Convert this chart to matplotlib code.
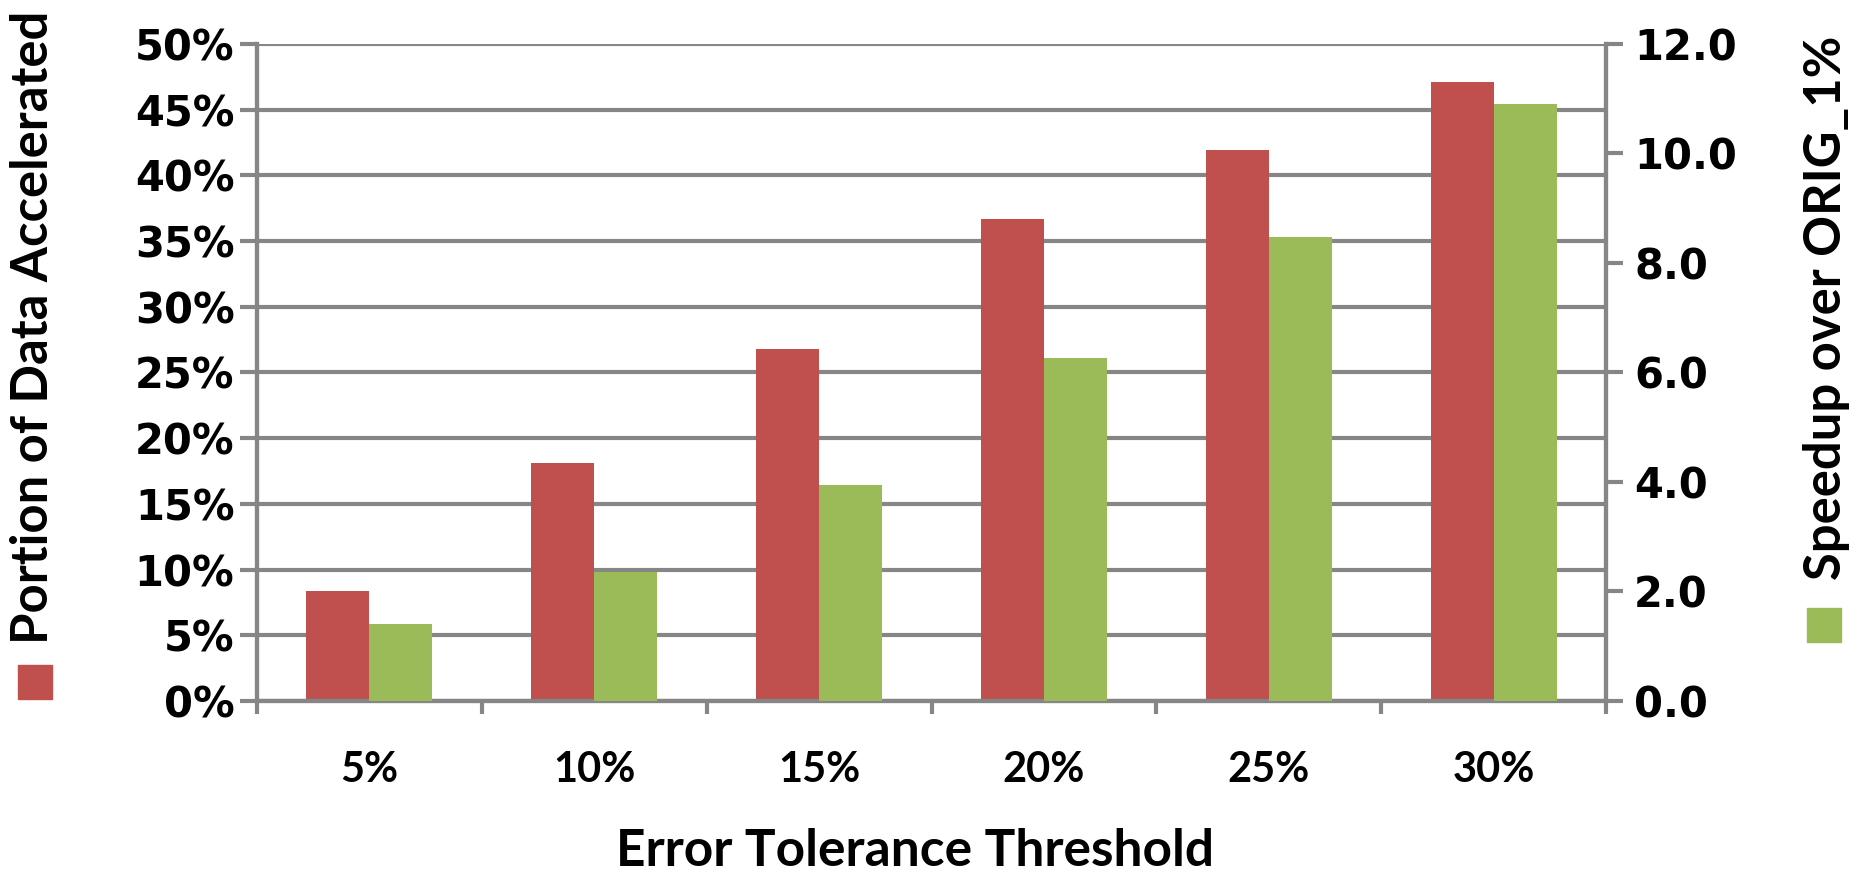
import numpy as np
import matplotlib.pyplot as plt
from matplotlib.patches import Rectangle

# Datos
thresholds = ["5%", "10%", "15%", "20%", "25%", "30%"]
portion_accel = [8.4, 18.1, 26.8, 36.7, 41.9, 47.1]   # % de datos acelerados
speedup = [1.41, 2.36, 3.94, 6.27, 8.47, 10.91]      # speedup sobre ORIG_1%

red = "#C0504D"
green = "#9BBB59"
grey = "#868686"
txt_font = ["Lato", "DejaVu Sans"]
num_font = "DejaVu Sans"
lw = 3.0

fig = plt.figure(figsize=(18.63, 8.74), dpi=100)
ax = fig.add_axes([0.1378, 0.198, 0.7244, 0.7517])
ax2 = ax.twinx()

x = np.arange(len(thresholds))
w = 0.28
ax.bar(x - w / 2, portion_accel, w, color=red, zorder=3)
ax2.bar(x + w / 2, speedup, w, color=green, zorder=3)

ax.set_xlim(-0.5, len(thresholds) - 0.5)
ax.set_ylim(0, 50)
ax2.set_ylim(0, 12)

# Eje izquierdo
ax.set_yticks(range(0, 51, 5))
ax.set_yticklabels([f"{v}%" for v in range(0, 51, 5)],
                   fontfamily=num_font, fontweight="bold", fontsize=30)
ax.yaxis.grid(True, color=grey, linewidth=lw, zorder=0)
ax.set_axisbelow(True)
ax.tick_params(axis="y", direction="out", length=12, width=lw, color=grey, pad=4)

# Eje X: marcas entre categorias
ax.set_xticks(x)
ax.set_xticklabels(thresholds, fontfamily=txt_font, fontweight="bold", fontsize=30)
ax.set_xticks(np.arange(-0.5, len(thresholds), 1), minor=True)
ax.tick_params(axis="x", which="major", length=0, pad=36)
ax.tick_params(axis="x", which="minor", direction="out", length=9, width=lw, color=grey)

# Eje derecho
ax2.set_yticks(range(0, 13, 2))
ax2.set_yticklabels([f"{v:.1f}" for v in range(0, 13, 2)],
                    fontfamily=num_font, fontweight="bold", fontsize=30)
ax2.tick_params(axis="y", direction="out", length=12, width=lw, color=grey, pad=8)

for a in (ax, ax2):
    a.spines["top"].set_visible(False)
    for s in ("left", "right", "bottom"):
        a.spines[s].set_color(grey)
        a.spines[s].set_linewidth(lw)

# Titulos de ejes con su "leyenda"
fig.text(915 / 1863, 1 - 851 / 874, "Error Tolerance Threshold",
         ha="center", va="center", fontfamily=txt_font, fontweight="bold", fontsize=37)

fig.text(34 / 1863, 1 - 327 / 874, "Portion of Data Accelerated", rotation=90,
         ha="center", va="center", fontfamily=txt_font, fontweight="bold", fontsize=36.5)
fig.patches.append(Rectangle((18 / 1863, 1 - 699 / 874), 34 / 1863, 34 / 874,
                             transform=fig.transFigure, color=red, figure=fig))

fig.text(1826 / 1863, 1 - 308 / 874, "Speedup over ORIG_1%", rotation=90,
         ha="center", va="center", fontfamily=txt_font, fontweight="bold", fontsize=36.5)
fig.patches.append(Rectangle((1807 / 1863, 1 - 642 / 874), 34 / 1863, 34 / 874,
                             transform=fig.transFigure, color=green, figure=fig))

plt.savefig("out.png", dpi=100)
